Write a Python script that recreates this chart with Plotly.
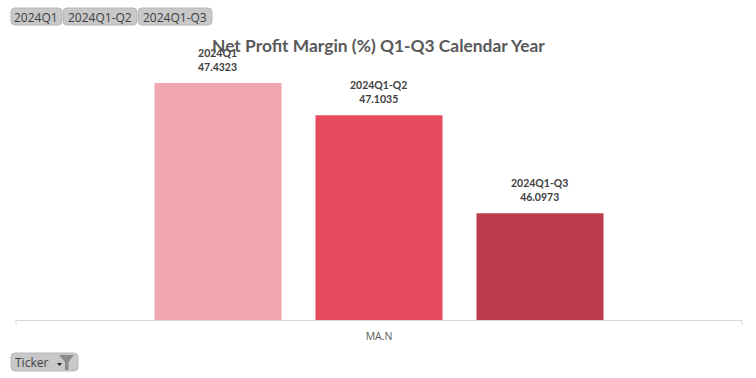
import plotly.graph_objects as go

categories = ["MA.N"]
series_names = ["2024Q1", "2024Q1-Q2", "2024Q1-Q3"]
series_values = [[47.4323], [47.1035], [46.0973]]
series_colors = ["#F0A8AE", "#E64C5E", "#BC3A4E"]
slicer_labels = ["2024Q1", "2024Q1-Q2", "2024Q1-Q3"]
title_text = "Net Profit Margin (%) Q1-Q3 Calendar Year"

W, H = 756, 378
L, R, T, B = 16, 742, 40, 320
FONT = "Open Sans"
LABEL_FONT = "Lato"
BAR_STEP = 161


def px(x):
    return (x - L) / (R - L)


def py(y):
    return (B - y) / (B - T)


def rounded(x0, y0, x1, y1, r=4):
    a, b, c, d = px(x0), py(y0), px(x1), py(y1)
    rx, ry = r / (R - L), r / (B - T)
    return (f"M{a+rx},{b} L{c-rx},{b} Q{c},{b} {c},{b-ry} L{c},{d+ry} Q{c},{d} {c-rx},{d} "
            f"L{a+rx},{d} Q{a},{d} {a},{d+ry} L{a},{b-ry} Q{a},{b} {a+rx},{b} Z")


fig = go.Figure()
annos = []
for i, (name, vals, col) in enumerate(zip(series_names, series_values, series_colors)):
    fig.add_bar(name=name, x=categories, y=vals, marker_color=col, marker_line_width=0)
    annos.append(dict(
        text=f"<b>{name}<br>{vals[0]:.4f}</b>", x=categories[0], y=vals[0], xref="x", yref="y",
        showarrow=False, xanchor="center", yanchor="bottom", xshift=(i - 1) * BAR_STEP - 0.5, yshift=8,
        font=dict(family=LABEL_FONT, size=10.5, color="#404040"),
    ))

shapes = []
buttons = [(11, 62, slicer_labels[0]), (63, 137, slicer_labels[1]), (138, 212, slicer_labels[2])]
for x0, x1, lab in buttons:
    shapes.append(dict(type="path", xref="paper", yref="paper", path=rounded(x0, 8, x1, 25),
                       fillcolor="#C8C8C8", line=dict(color="#B8B8B8", width=1)))
    annos.append(dict(text=lab, x=px((x0 + x1) / 2 - 0.5), y=py(17), xref="paper", yref="paper",
                      showarrow=False, xanchor="center", yanchor="middle",
                      font=dict(family=FONT, size=12, color="#404040")))

# "Ticker" field button with its filter icon
shapes.append(dict(type="path", xref="paper", yref="paper", path=rounded(11, 353, 78, 371),
                   fillcolor="#C8C8C8", line=dict(color="#B8B8B8", width=1)))
annos.append(dict(text="Ticker", x=px(13), y=py(362), xref="paper", yref="paper", showarrow=False,
                  xanchor="left", yanchor="middle", font=dict(family=FONT, size=12, color="#404040")))
shapes.append(dict(type="path", xref="paper", yref="paper",
                   path=f"M{px(57)},{py(363)} L{px(62)},{py(363)} L{px(59.5)},{py(366)} Z",
                   fillcolor="#222222", line_width=0))
shapes.append(dict(type="path", xref="paper", yref="paper",
                   path=f"M{px(59)},{py(355)} L{px(74)},{py(355)} L{px(68.5)},{py(362)} L{px(68.5)},{py(370)} "
                        f"L{px(65)},{py(370)} L{px(65)},{py(362)} Z",
                   fillcolor="#8A8A8A", line_width=0))
# axis end ticks
for xt in (L, R):
    shapes.append(dict(type="line", xref="paper", yref="paper", x0=px(xt), x1=px(xt), y0=py(320), y1=py(325),
                       line=dict(color="#D9D9D9", width=1)))

annos.append(dict(text=f"<b>{title_text}</b>", x=px(378), y=py(45.5), xref="paper", yref="paper",
                  showarrow=False, xanchor="center", yanchor="middle",
                  font=dict(family=LABEL_FONT, size=17.4, color="#595959")))

fig.update_layout(
    width=W, height=H, autosize=False, showlegend=False,
    paper_bgcolor="white", plot_bgcolor="white",
    margin=dict(l=L, r=W - R, t=T, b=H - B, pad=0),
    barmode="group", bargap=0.3347, bargroupgap=0.211,
    xaxis=dict(showgrid=False, showline=True, linecolor="#D9D9D9", linewidth=1,
               ticks="outside", ticklen=6, tickcolor="rgba(0,0,0,0)",
               tickfont=dict(family=FONT, size=10.5, color="#595959"), automargin=False),
    yaxis=dict(range=[45, 47.875], visible=False, showgrid=False, zeroline=False, automargin=False),
    shapes=shapes, annotations=annos,
)
fig.write_html("out.html", config={"displayModeBar": False},
               post_script="document.body.style.margin='0';document.body.style.overflow='hidden';")
